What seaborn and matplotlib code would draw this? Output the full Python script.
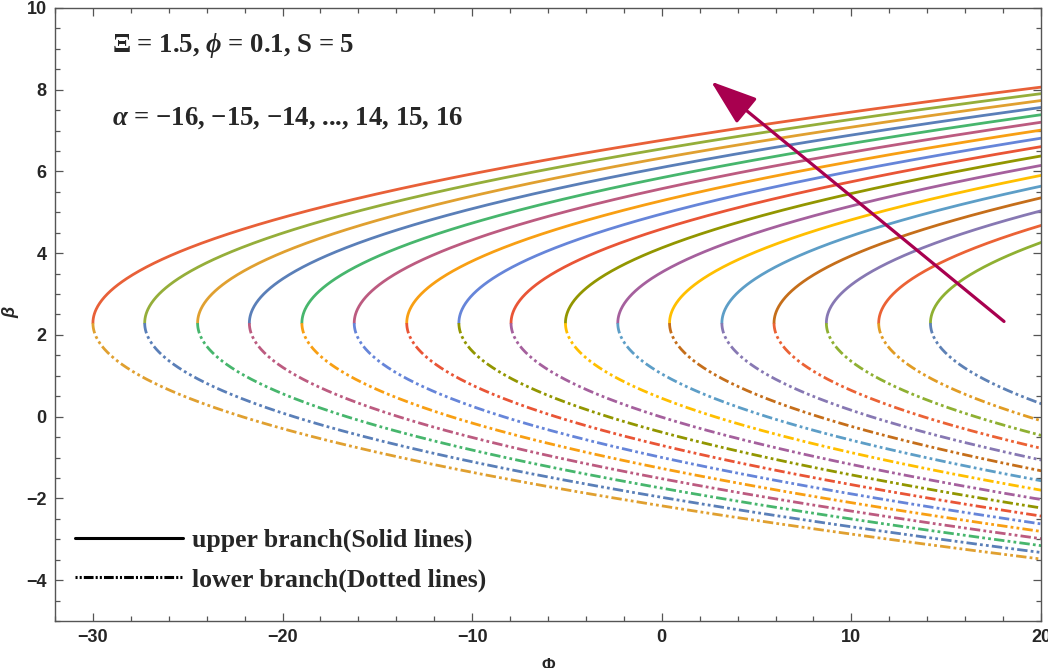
import numpy as np
import pandas as pd
import matplotlib
matplotlib.use("Agg")
import matplotlib.pyplot as plt
from matplotlib.lines import Line2D
from matplotlib.ticker import MultipleLocator
import seaborn as sns

# ---------------- data ----------------
# vertex position (Phi) of each of the 17 parabola-like curves, left to right
vertex_phi = [-30.0, -27.27, -24.48, -21.75, -18.98, -16.22, -13.45, -10.70,
              -7.95, -5.08, -2.32, 0.41, 3.17, 5.92, 8.68, 11.44, 14.17]
vertex_beta = 2.29          # beta at the turning point of every curve
curvature = 1.5             # Phi - Phi_v = curvature * (beta - beta_v)^2

# colours (left -> right) of the upper (solid) and lower (dash-dot-dot) branches
upper_colors = ["#E86038", "#95AE3A", "#E0A030", "#5A7FB8", "#47B66D", "#BC5B80",
                "#F89F13", "#6685D9", "#E95536", "#929600", "#A5609D", "#FFBF00",
                "#5D9EC7", "#C56E1A", "#8778B3", "#EB6235", "#8FB032"]
lower_colors = ["#E0A030", "#5A7FB8", "#47B66D", "#BC5B80", "#F89F13", "#6685D9",
                "#E95536", "#929600", "#A5609D", "#FFBF00", "#5D9EC7", "#C56E1A",
                "#8778B3", "#EB6235", "#8FB032", "#E19C24", "#5E81B5"]

x_ticks = [-30, -20, -10, 0, 10, 20]
y_ticks = [-4, -2, 0, 2, 4, 6, 8, 10]
xlim = (-32, 20)
ylim = (-5, 10)

arrow_tail = (18.05, 2.33)
arrow_head = (2.6, 8.2)

text_line1 = "Ξ = 1.5, $\\mathit{ϕ}$ = 0.1, S = 5"
text_line2 = "$\\mathit{α}$ = −16, −15, −14, ..., 14, 15, 16"
legend_labels = ["upper branch(Solid lines)", "lower branch(Dotted lines)"]

# ---------------- style ----------------
sns.set_style("ticks")
plt.rcParams["font.family"] = ["Liberation Sans", "DejaVu Sans"]
plt.rcParams["mathtext.fontset"] = "custom"
plt.rcParams["mathtext.it"] = "Liberation Serif:italic:bold"
plt.rcParams["mathtext.rm"] = "Liberation Serif:bold"
plt.rcParams["mathtext.bf"] = "Liberation Serif:bold"
plt.rcParams["lines.scale_dashes"] = False

fig = plt.figure(figsize=(10.48, 6.68), dpi=100)
ax = fig.add_axes([55 / 1048, 1 - 621 / 668, 986 / 1048, 613 / 668])

lw = 2.0
dash_pat = (7.5, 2.3, 2.0, 2.3, 2.0, 2.3)

# build long-form data for each branch
rows = []
for i, pv in enumerate(vertex_phi):
    db = np.linspace(0, 7.5, 400)
    phi = pv + curvature * db ** 2
    for branch, sign in (("upper", 1), ("lower", -1)):
        for p, d in zip(phi, db):
            rows.append((i, branch, p, vertex_beta + sign * d))
df = pd.DataFrame(rows, columns=["curve", "branch", "Phi", "beta"])

for i in range(len(vertex_phi)):
    sub_u = df[(df.curve == i) & (df.branch == "upper")]
    sub_l = df[(df.curve == i) & (df.branch == "lower")]
    sns.lineplot(data=sub_u, x="Phi", y="beta", sort=False, estimator=None,
                 color=upper_colors[i], lw=lw, ax=ax)
    sns.lineplot(data=sub_l, x="Phi", y="beta", sort=False, estimator=None,
                 color=lower_colors[i], lw=lw, ax=ax)
    ax.lines[-1].set_dashes(dash_pat)

ax.set_xlim(*xlim)
ax.set_ylim(*ylim)
ax.set_xticks(x_ticks)
ax.set_yticks(y_ticks)
ax.xaxis.set_minor_locator(MultipleLocator(2))
ax.yaxis.set_minor_locator(MultipleLocator(0.5))
ax.tick_params(which="both", direction="in", top=True, right=True,
               color="#555555", width=0.9)
ax.tick_params(which="major", length=6, labelsize=13, pad=6)
ax.tick_params(which="minor", length=3.5)
for lab in ax.get_xticklabels() + ax.get_yticklabels():
    lab.set_fontweight("bold")
for s in ax.spines.values():
    s.set_color("#555555")
    s.set_linewidth(1.0)

ax.set_xlabel("Φ", fontsize=12, fontweight="bold")
ax.set_ylabel("β", fontsize=13, fontweight="bold", fontstyle="italic")
ax.xaxis.set_label_coords(0.5, -0.060)
ax.yaxis.set_label_coords(-0.036, 0.504)

# annotation texts
serif_bold = dict(family=["Liberation Serif", "DejaVu Serif"], weight="bold")
ax.text(-29.0, 9.09, text_line1, fontsize=19.3, va="center", ha="left", **serif_bold)
ax.text(-29.0, 7.31, text_line2, fontsize=19.3, va="center", ha="left", **serif_bold)

# arrow
ax.annotate("", xy=arrow_head, xytext=arrow_tail,
            arrowprops=dict(arrowstyle="-|>,head_length=0.8,head_width=0.28",
                            mutation_scale=36, color="#A8004F", lw=2.3,
                            shrinkA=0, shrinkB=0))

# legend
handles = [Line2D([], [], color="black", lw=2.2),
           Line2D([], [], color="black", lw=2.2, dashes=(1.5, 1.5, 1.5, 1.5, 7, 1.5))]
leg = ax.legend(handles, legend_labels, loc="lower left",
                bbox_to_anchor=(0.02, 0.048), frameon=False,
                prop=dict(family="Liberation Serif", weight="bold", size=18.5),
                handlelength=4.2, handletextpad=0.35, labelspacing=0.62,
                borderaxespad=0, borderpad=0)

fig.savefig("out.png", dpi=100)
